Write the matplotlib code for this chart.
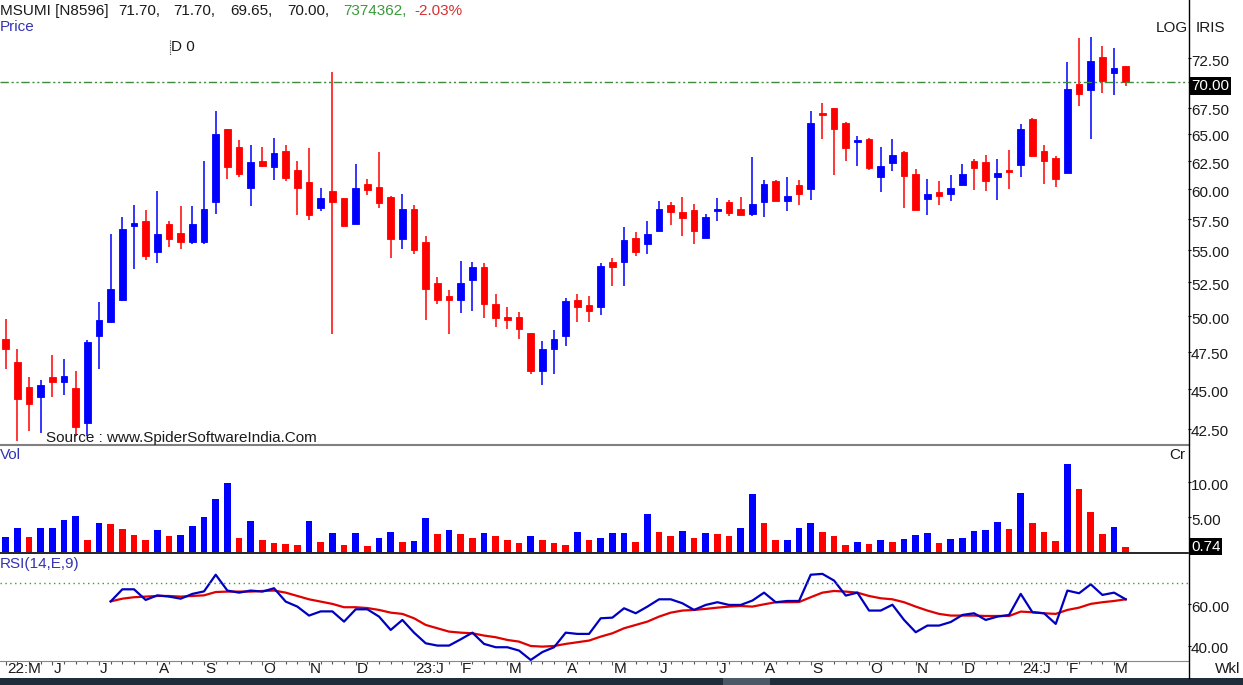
import numpy as np
import matplotlib
matplotlib.use('Agg')
import matplotlib.pyplot as plt
import matplotlib.transforms as mtransforms
from matplotlib.lines import Line2D
from matplotlib.patches import Rectangle
from matplotlib.ticker import FixedLocator, NullLocator

plt.rcParams['font.family'] = ['Liberation Sans', 'DejaVu Sans']

W, H = 1243, 685

# weekly OHLC, MSUMI, May 2022 - Mar 2024
opens = [48.4, 46.8, 45.15, 44.5, 45.8, 45.5, 45.1, 42.85, 48.6, 49.6,
         51.2, 56.95, 57.35, 54.85, 57.05, 56.35, 55.6, 55.6, 58.9, 65.5,
         63.8, 60.15, 62.5, 62.0, 63.4, 61.75, 60.65, 58.45, 59.85, 59.25,
         57.05, 60.45, 60.25, 59.35, 55.85, 58.35, 55.65, 52.45, 51.5, 51.15,
         52.7, 53.7, 50.9, 49.9, 49.95, 48.8, 46.2, 47.7, 48.6, 51.15,
         50.8, 50.65, 54.05, 54.05, 55.95, 55.45, 56.5, 58.65, 58.1, 58.25,
         55.95, 58.15, 58.95, 58.35, 57.95, 58.95, 60.75, 59.05, 60.4, 60.05,
         66.95, 67.45, 66.0, 64.2, 64.5, 61.1, 62.3, 63.3, 61.35, 59.2,
         59.75, 59.6, 60.4, 62.5, 62.4, 61.1, 61.75, 62.15, 66.45, 63.4,
         62.8, 61.45, 69.8, 69.2, 72.65, 71.0, 71.70]
highs = [49.8, 47.7, 45.8, 45.6, 47.3, 47.0, 46.2, 48.3, 51.0, 56.25,
         57.65, 58.65, 58.25, 59.85, 57.35, 58.55, 58.55, 62.5, 67.2, 65.5,
         64.4, 64.0, 63.8, 64.6, 64.0, 62.5, 63.7, 60.15, 71.05, 59.25,
         62.2, 60.95, 63.3, 59.45, 59.65, 58.65, 56.15, 52.9, 51.9, 54.15,
         54.05, 53.95, 51.65, 50.65, 50.3, 48.8, 48.25, 49.0, 51.3, 51.6,
         51.45, 53.95, 54.35, 56.85, 56.45, 57.3, 59.05, 58.9, 59.35, 58.75,
         57.95, 59.25, 59.1, 59.35, 62.9, 60.85, 60.85, 61.05, 60.85, 67.2,
         68.0, 67.45, 66.1, 64.8, 64.6, 63.8, 64.5, 63.45, 61.8, 60.95,
         60.75, 61.25, 62.2, 62.65, 63.05, 62.65, 63.55, 65.9, 66.55, 63.95,
         62.95, 72.05, 74.65, 74.75, 73.75, 73.55, 71.70]
lows = [46.3, 41.75, 42.35, 42.25, 44.5, 44.65, 42.05, 42.05, 46.3, 49.5,
        51.1, 53.5, 54.2, 54.0, 55.25, 55.05, 55.45, 55.45, 57.95, 60.95,
        61.05, 58.55, 62.0, 60.85, 60.75, 57.85, 57.45, 58.15, 48.7, 56.95,
        57.05, 59.55, 58.45, 54.35, 55.05, 54.65, 49.7, 50.9, 48.75, 50.25,
        50.4, 49.85, 49.25, 49.1, 48.4, 46.0, 45.25, 46.0, 47.9, 49.6,
        49.6, 50.1, 52.2, 52.2, 54.55, 54.65, 56.5, 57.0, 56.15, 55.45,
        55.95, 57.35, 57.75, 57.85, 57.75, 57.65, 59.05, 58.2, 58.7, 59.1,
        64.5, 61.3, 62.55, 62.05, 61.75, 59.75, 61.65, 58.45, 58.25, 57.85,
        58.7, 59.0, 60.4, 59.95, 59.9, 59.1, 60.05, 61.1, 62.95, 60.5,
        60.25, 61.45, 67.7, 64.5, 68.9, 68.7, 69.65]
closes = [47.7, 44.35, 44.05, 45.25, 45.45, 45.9, 42.65, 48.2, 49.7, 52.0,
          56.65, 57.15, 54.55, 56.25, 55.85, 55.6, 57.1, 58.35, 64.95, 61.95,
          61.35, 62.4, 62.1, 63.25, 61.0, 60.15, 57.85, 59.25, 58.95, 56.95,
          60.15, 59.95, 58.85, 55.85, 58.35, 55.0, 52.0, 51.2, 51.2, 52.45,
          53.7, 50.9, 49.85, 49.7, 49.1, 46.2, 47.7, 48.4, 51.1, 50.65,
          50.4, 53.75, 53.7, 55.8, 54.85, 56.25, 58.3, 58.1, 57.6, 56.55,
          57.65, 58.3, 58.0, 57.85, 58.8, 60.45, 59.05, 59.45, 59.65, 66.0,
          66.75, 65.45, 63.65, 64.4, 61.9, 62.05, 63.05, 61.15, 58.25, 59.65,
          59.4, 60.1, 61.35, 61.85, 60.75, 61.4, 61.55, 65.5, 62.95, 62.5,
          60.9, 69.3, 68.8, 72.15, 70.1, 71.45, 70.00]

# volume in crore
volumes = [2.14, 3.48, 2.14, 3.38, 3.48, 4.52, 5.19, 1.67, 4.14, 4.05,
           3.33, 2.38, 1.76, 3.19, 2.29, 2.38, 3.71, 5.05, 7.52, 9.90,
           1.95, 4.38, 1.76, 1.33, 1.19, 0.95, 4.38, 1.38, 2.71, 1.05,
           2.71, 0.90, 2.05, 2.81, 1.38, 1.52, 4.81, 2.52, 3.10, 2.52,
           2.05, 2.71, 2.24, 1.67, 1.24, 2.24, 1.67, 1.24, 0.95, 2.81,
           1.67, 2.05, 2.71, 2.71, 1.43, 5.48, 2.81, 2.29, 3.00, 2.05,
           2.71, 2.52, 2.29, 3.48, 8.24, 4.14, 1.67, 1.67, 3.48, 4.14,
           2.81, 2.29, 0.95, 1.43, 1.10, 1.76, 1.43, 1.90, 2.38, 2.71,
           1.29, 1.90, 2.05, 2.95, 3.10, 4.29, 3.24, 8.48, 4.14, 2.81,
           1.52, 12.48, 8.95, 5.71, 2.52, 3.57, 0.74]
# B = volume up, R = volume down
vol_dir = ("BBRBBBBRBRRRRBRBBBBBRBRRRRBRBRBRBBRBBRBRRBRRRBRRRBRBB"
           "BRBRRBRBRRBBRRBBBRRRBRBRBBBRBBBBBRBRRRBRRRBR")

# RSI(14) and its 9-period EMA, from week 9 on
rsi_start = 9
rsi = [61.4, 67.2, 67.2, 62.1, 64.3, 63.7, 62.7, 65.0, 66.2, 74.2,
       66.6, 65.6, 66.6, 66.1, 67.7, 61.3, 58.9, 54.6, 56.6, 56.6,
       51.7, 57.6, 57.6, 54.1, 47.7, 52.5, 46.4, 41.3, 40.2, 40.2,
       43.2, 46.4, 41.0, 39.4, 39.4, 37.8, 33.3, 37.1, 39.4, 46.4,
       45.8, 45.8, 53.3, 53.6, 58.1, 55.7, 58.9, 62.4, 62.4, 60.5,
       57.3, 59.7, 61.0, 59.7, 59.7, 61.8, 65.6, 61.0, 61.6, 61.6,
       74.2, 74.6, 71.4, 64.2, 65.6, 57.0, 57.0, 59.8, 52.5, 46.6,
       49.8, 49.8, 51.5, 54.9, 55.7, 52.5, 54.1, 54.9, 65.0, 56.2,
       55.7, 50.6, 66.6, 65.3, 69.6, 64.5, 65.6, 62.4]
rsi_signal = [61.4, 62.7, 63.4, 63.7, 64.0, 64.0, 63.7, 64.0, 64.3, 65.9,
              66.1, 66.1, 66.1, 66.4, 66.6, 65.6, 64.0, 62.4, 61.3, 60.2,
              58.6, 58.6, 58.2, 57.3, 56.0, 55.4, 53.3, 50.1, 48.5, 46.9,
              46.4, 46.1, 45.0, 44.2, 42.9, 42.1, 40.0, 39.7, 40.0, 41.0,
              41.8, 42.6, 44.5, 46.1, 48.5, 50.1, 51.7, 54.1, 56.0, 57.0,
              57.3, 57.8, 58.4, 58.9, 59.2, 58.9, 60.0, 61.0, 61.0, 61.1,
              63.4, 65.6, 66.4, 66.1, 65.6, 64.0, 62.9, 62.4, 61.0, 58.9,
              57.0, 55.4, 54.6, 54.6, 54.6, 54.4, 54.4, 54.4, 56.5, 56.2,
              55.7, 55.4, 57.3, 58.4, 60.2, 61.0, 61.6, 62.4]

month_labels = ['22:M', 'J', 'J', 'A', 'S', 'O', 'N', 'D', '23:J', 'F', 'M', 'A',
                'M', 'J', 'J', 'A', 'S', 'O', 'N', 'D', '24:J', 'F', 'M']
month_start = [0, 4, 8, 13, 17, 22, 26, 30, 35, 39, 43, 48,
               52, 56, 61, 65, 69, 74, 78, 82, 87, 91, 95]

price_ticks = [42.5, 45.0, 47.5, 50.0, 52.5, 55.0, 57.5, 60.0, 62.5, 65.0, 67.5, 72.5]
last_close = 70.00
vol_ticks = [5.0, 10.0]
rsi_ticks = [40.0, 60.0]

BLUE = '#0000ff'
RED = '#ff0000'
LBL = '#3434b4'
FS = 11

opens = np.array(opens)
closes = np.array(closes)
x = np.arange(len(opens))
cols = [BLUE if c > o else RED for o, c in zip(opens, closes)]

fig = plt.figure(figsize=(W / 100, H / 100), dpi=100)
fig.patch.set_facecolor('white')

def fx(px):
    return px / W

def fy(py):
    return 1 - py / H

right = 1188
ax_p = fig.add_axes([0, fy(444), fx(right), 444 / H])
ax_v = fig.add_axes([0, fy(552), fx(right), 108 / H])
ax_r = fig.add_axes([0, fy(661), fx(right), 109 / H])

step = 11.667
xlim = (-5.7 / step, (right - 5.7) / step)

for ax in (ax_p, ax_v, ax_r):
    ax.set_xlim(*xlim)
    for s in ax.spines.values():
        s.set_visible(False)
    ax.set_facecolor('none')
    ax.tick_params(axis='x', which='both', bottom=False, labelbottom=False)
    ax.yaxis.tick_right()
    ax.tick_params(axis='y', which='both', length=2.5, width=0.8, color='black',
                   labelright=False, direction='out')

def right_labels(ax, vals, texts, dy):
    trans = mtransforms.blended_transform_factory(ax.transAxes, ax.transData)
    trans = mtransforms.offset_copy(trans, fig=fig, x=0, y=-dy, units='dots')
    for v, t in zip(vals, texts):
        ax.text(1.0 + 3 / right, v, t, transform=trans, ha='left', va='center',
                fontsize=FS, color='#1a1a1a', clip_on=False)

# price panel
ax_p.set_yscale('log')
ax_p.vlines(x, lows, highs, colors=cols, linewidth=1.1)
ax_p.bar(x, np.abs(closes - opens), bottom=np.minimum(opens, closes), width=0.575,
         color=cols, edgecolor=cols, linewidth=0.6)
ax_p.set_ylim(41.59, 78.82)
ax_p.yaxis.set_major_locator(FixedLocator(price_ticks + [last_close]))
ax_p.yaxis.set_minor_locator(NullLocator())
ax_p.axhline(last_close, color='#3c8c3c', linewidth=1.0, dashes=(6, 2, 1.5, 2, 1.5, 2))
right_labels(ax_p, price_ticks, ['%.2f' % v for v in price_ticks], 3.5)
trans = mtransforms.offset_copy(
    mtransforms.blended_transform_factory(ax_p.transAxes, ax_p.transData),
    fig=fig, x=0, y=-3.5, units='dots')
ax_p.text(1.0 + 3 / right, last_close, '%.2f' % last_close, transform=trans,
          ha='left', va='center', fontsize=FS, color='white', clip_on=False,
          bbox=dict(facecolor='black', edgecolor='none', pad=1.2))

# volume panel
vcols = [BLUE if d == 'B' else RED for d in vol_dir]
ax_v.bar(x, volumes, width=0.575, color=vcols, linewidth=0)
ax_v.set_ylim(0, 15.4)
ax_v.yaxis.set_major_locator(FixedLocator(vol_ticks))
right_labels(ax_v, vol_ticks, ['%.2f' % v for v in vol_ticks], 4.5)
ax_v.text(1.0 + 3 / right, 0.74, '%.2f' % volumes[-1], transform=mtransforms.blended_transform_factory(ax_v.transAxes, ax_v.transData),
          ha='left', va='center', fontsize=FS, color='white', clip_on=False,
          bbox=dict(facecolor='black', edgecolor='none', pad=1.2))

# rsi panel
xr = np.arange(rsi_start, rsi_start + len(rsi))
ax_r.plot(xr, rsi_signal, color='#e00000', linewidth=1.6)
ax_r.plot(xr, rsi, color='#0000c0', linewidth=1.6)
ax_r.axhline(70, color='#3c9c3c', linewidth=1.0, linestyle=(0, (1, 2.5)))
ax_r.set_ylim(32.8, 85.1)
ax_r.yaxis.set_major_locator(FixedLocator(rsi_ticks))
right_labels(ax_r, rsi_ticks, ['%.2f' % v for v in rsi_ticks], 3.5)

# week ticks and month labels under rsi panel
ax_r.tick_params(axis='x', which='both', bottom=True, length=3, width=0.8, color='#555555',
                 direction='out')
ax_r.xaxis.set_major_locator(FixedLocator(month_start))
ax_r.xaxis.set_minor_locator(FixedLocator(x))
ax_r.tick_params(axis='x', which='minor', length=2)
tb = mtransforms.blended_transform_factory(ax_r.transData, ax_r.transAxes)
for pos, lab in zip(month_start, month_labels):
    ax_r.text(pos + 0.1, -8 / 109, lab, transform=tb, ha='left', va='center',
              fontsize=FS, color='#1a1a1a', clip_on=False)

# frame lines
fig.add_artist(Line2D([0, fx(right)], [fy(444.5)] * 2, color='#808080', linewidth=1.5))
fig.add_artist(Line2D([0, fx(right)], [fy(552.5)] * 2, color='black', linewidth=1.2))
fig.add_artist(Line2D([0, fx(right)], [fy(661)] * 2, color='#888888', linewidth=0.8))
fig.add_artist(Line2D([fx(right + 0.5)] * 2, [fy(0), fy(678)], color='black', linewidth=1.0))
fig.add_artist(Rectangle((0, 0), 1, 7 / H, transform=fig.transFigure,
                         facecolor='#1f2c39', edgecolor='none'))
fig.add_artist(Rectangle((fx(723), 0), fx(47), 7 / H, transform=fig.transFigure,
                         facecolor='#4b5866', edgecolor='none'))

def ftext(px, py, s, **kw):
    kw.setdefault('fontsize', FS)
    kw.setdefault('color', '#1a1a1a')
    fig.text(fx(px), fy(py), s, ha=kw.pop('ha', 'left'), va='center', **kw)

# header
ftext(0, 11, 'MSUMI [N8596]')
ftext(118, 11, '%.2f,' % opens[-1])
ftext(173, 11, '%.2f,' % highs[-1])
ftext(230, 11, '%.2f,' % lows[-1])
ftext(287, 11, '%.2f,' % closes[-1])
ftext(343, 11, '7374362,', color='#3a9a3a')
ftext(414, 11, '-2.03%', color='#d83030')
ftext(0, 27, 'Price', color=LBL)
ftext(171, 47, 'D 0')
fig.add_artist(Line2D([fx(169.5)] * 2, [fy(40), fy(55)], color='#444444',
                      linewidth=0.8, linestyle=(0, (1, 1))))
ftext(1156, 28, 'LOG')
ftext(1196, 28, 'IRIS')
ftext(46, 438, 'Source : www.SpiderSoftwareIndia.Com')
ftext(0, 455, 'Vol', color=LBL)
ftext(1169, 455, 'Cr')
ftext(0, 564, 'RSI(14,E,9)', color=LBL)
ftext(1215, 669, 'Wkl')

fig.savefig('out.png', dpi=100)
